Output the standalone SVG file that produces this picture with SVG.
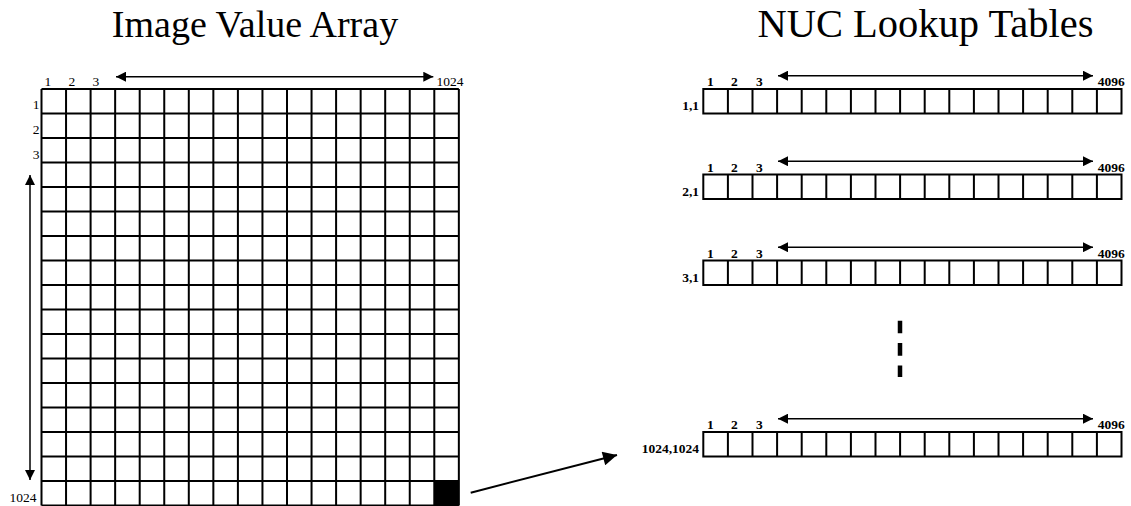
<svg xmlns="http://www.w3.org/2000/svg" xmlns:xlink="http://www.w3.org/1999/xlink" width="1131" height="506" viewBox="0 0 1131 506">
  <style>
    .title { font-family: "Liberation Serif", "Times New Roman", serif; font-size: 38px; fill: #000; }
    .lbl { font-family: "Liberation Serif", "Times New Roman", serif; font-size: 13.5px; fill: #000; }
    .blbl { font-family: "Liberation Serif", "Times New Roman", serif; font-size: 13.5px; font-weight: bold; fill: #000; }
    .grid { fill: none; stroke: #000; stroke-width: 2; }
    .dim { fill: none; stroke: #000; stroke-width: 1.5; }
    .link { fill: none; stroke: #000; stroke-width: 2; }
    .dash { fill: none; stroke: #000; stroke-width: 4.5; stroke-dasharray: 12.6 9.8; }
  </style>
  <defs>
    <marker id="head" viewBox="0 0 10 10" refX="10" refY="5" markerWidth="11" markerHeight="10" markerUnits="userSpaceOnUse" orient="auto-start-reverse">
      <path d="M0,0 L10,5 L0,10 Z" fill="#000"/>
    </marker>
    <marker id="bighead" viewBox="0 0 10 10" refX="10" refY="5" markerWidth="17" markerHeight="14" markerUnits="userSpaceOnUse" orient="auto">
      <path d="M0,0 L10,5 L0,10 Z" fill="#000"/>
    </marker>
    <!-- one lookup table: 17 cells, index labels and span arrow -->
    <g id="lut">
      <rect class="grid" x="0" y="0" width="418.2" height="24.5"/>
      <path class="grid" d="M24.6,0V24.5M49.2,0V24.5M73.8,0V24.5M98.4,0V24.5M123,0V24.5M147.6,0V24.5M172.2,0V24.5M196.8,0V24.5M221.4,0V24.5M246,0V24.5M270.6,0V24.5M295.2,0V24.5M319.8,0V24.5M344.4,0V24.5M369,0V24.5M393.6,0V24.5"/>
      <text class="blbl" x="3.7" y="-3">1</text>
      <text class="blbl" x="27.7" y="-3">2</text>
      <text class="blbl" x="52.7" y="-3">3</text>
      <line class="dim" x1="74.7" y1="-13.3" x2="389.7" y2="-13.3" marker-start="url(#head)" marker-end="url(#head)"/>
      <text class="blbl" x="394.5" y="-3">4096</text>
    </g>
  </defs>

  <text class="title" x="255" y="37" text-anchor="middle">Image Value Array</text>
  <text class="title" x="925.5" y="37" text-anchor="middle" style="font-size:40.5px">NUC Lookup Tables</text>

  <!-- 17 x 17 image value array -->
  <g id="image-array">
    <rect x="434.3" y="481" width="24.55" height="24.5" fill="#000"/>
    <path class="grid" d="M41.5,89V505.5M66.05,89V505.5M90.6,89V505.5M115.15,89V505.5M139.7,89V505.5M164.25,89V505.5M188.8,89V505.5M213.35,89V505.5M237.9,89V505.5M262.45,89V505.5M287,89V505.5M311.55,89V505.5M336.1,89V505.5M360.65,89V505.5M385.2,89V505.5M409.75,89V505.5M434.3,89V505.5M458.85,89V505.5"/>
    <path class="grid" d="M41.5,89H458.85M41.5,113.5H458.85M41.5,138H458.85M41.5,162.5H458.85M41.5,187H458.85M41.5,211.5H458.85M41.5,236H458.85M41.5,260.5H458.85M41.5,285H458.85M41.5,309.5H458.85M41.5,334H458.85M41.5,358.5H458.85M41.5,383H458.85M41.5,407.5H458.85M41.5,432H458.85M41.5,456.5H458.85M41.5,481H458.85M41.5,505.5H458.85"/>
    <text class="lbl" x="44.5" y="86">1</text>
    <text class="lbl" x="68.5" y="86">2</text>
    <text class="lbl" x="92.5" y="86">3</text>
    <text class="lbl" x="436.5" y="86">1024</text>
    <text class="lbl" x="39.5" y="109.3" text-anchor="end">1</text>
    <text class="lbl" x="39.5" y="134" text-anchor="end">2</text>
    <text class="lbl" x="39.5" y="158.7" text-anchor="end">3</text>
    <text class="lbl" x="36.5" y="501.5" text-anchor="end">1024</text>
    <line class="dim" x1="116" y1="76.7" x2="433.3" y2="76.7" marker-start="url(#head)" marker-end="url(#head)"/>
    <line class="dim" x1="30" y1="175" x2="30" y2="480" marker-start="url(#head)" marker-end="url(#head)"/>
  </g>

  <!-- lookup tables, one per pixel -->
  <g id="lut-1-1">
    <use xlink:href="#lut" transform="translate(703.3,89)"/>
    <text class="blbl" x="699" y="110" text-anchor="end">1,1</text>
  </g>
  <g id="lut-2-1">
    <use xlink:href="#lut" transform="translate(703.3,174.5)"/>
    <text class="blbl" x="699" y="195.5" text-anchor="end">2,1</text>
  </g>
  <g id="lut-3-1">
    <use xlink:href="#lut" transform="translate(703.3,260.5)"/>
    <text class="blbl" x="699" y="281.5" text-anchor="end">3,1</text>
  </g>
  <g id="lut-1024-1024">
    <use xlink:href="#lut" transform="translate(703.3,432)"/>
    <text class="blbl" x="699" y="453" text-anchor="end">1024,1024</text>
  </g>

  <!-- connectors -->
  <g id="connectors">
    <line class="dash" x1="900" y1="320.7" x2="900" y2="377"/>
    <line class="link" x1="470.7" y1="492.7" x2="617" y2="455" marker-end="url(#bighead)"/>
  </g>
</svg>
